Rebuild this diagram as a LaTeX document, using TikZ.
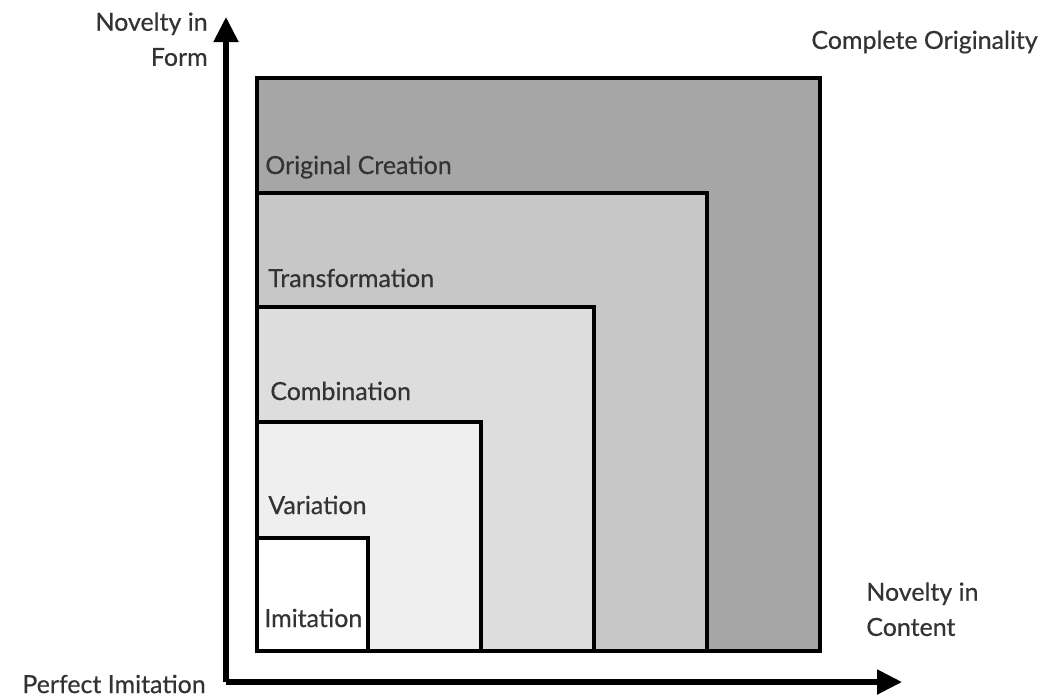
\documentclass[tikz,border=0pt]{standalone}
\usepackage{fontspec}
\setmainfont{Lato}[FakeBold=0.5]
\usetikzlibrary{arrows.meta}
\begin{document}
\begin{tikzpicture}[x=0.02cm, y=-0.02cm, >={Triangle[length=0.5cm, width=0.48cm]},
		font=\fontsize{14.2}{20}\selectfont,
		axis/.style={->, line width=2.9pt, black},
		level/.style={draw=black, line width=1.9pt},
		lbl/.style={anchor=base west, inner sep=0pt, text=black!80}]
			\definecolor{shadeA}{RGB}{166, 166, 166}
			\definecolor{shadeB}{RGB}{199, 199, 199}
			\definecolor{shadeC}{RGB}{221, 221, 221}
			\definecolor{shadeD}{RGB}{239, 239, 239}
			\useasboundingbox (0,0) rectangle (1047,698);
			% nested levels
			\draw[level, fill=shadeA] (257,651) rectangle (820,78);
			\draw[level, fill=shadeB] (257,651) rectangle (707,193);
			\draw[level, fill=shadeC] (257,651) rectangle (594,307);
			\draw[level, fill=shadeD] (257,651) rectangle (481,422);
			\draw[level, fill=white] (257,651) rectangle (368,538);
			\node[lbl] (orig) at (265,174) {Original Creation};
			\node[lbl] (trans) at (268,287) {Transformation};
			\node[lbl] (comb) at (270,400) {Combination};
			\node[lbl] (var) at (268,514) {Variation};
			\node[lbl] (imit) at (264,627) {Imitation};
			% axes
			\coordinate (O) at (226,682);
			\coordinate (ytip) at (226,17);
			\coordinate (xtip) at (902,682);
			\draw[axis] (O) -- (ytip);
			\draw[axis] (O) -- (xtip);
			\node[align=right, anchor=north east, inner sep=0pt, text=black!80] (form) at (208,12) {Novelty in\\Form};
			\node[align=left, anchor=north west, inner sep=0pt, text=black!80] (content) at (866,582) {Novelty in\\Content};
			\node[anchor=east, inner sep=0pt, text=black!80] (perfect) at (206,684) {Perfect Imitation};
			\node[anchor=east, inner sep=0pt, text=black!80] (complete) at (1038,42) {Complete Originality};
		\end{tikzpicture}
\end{document}
